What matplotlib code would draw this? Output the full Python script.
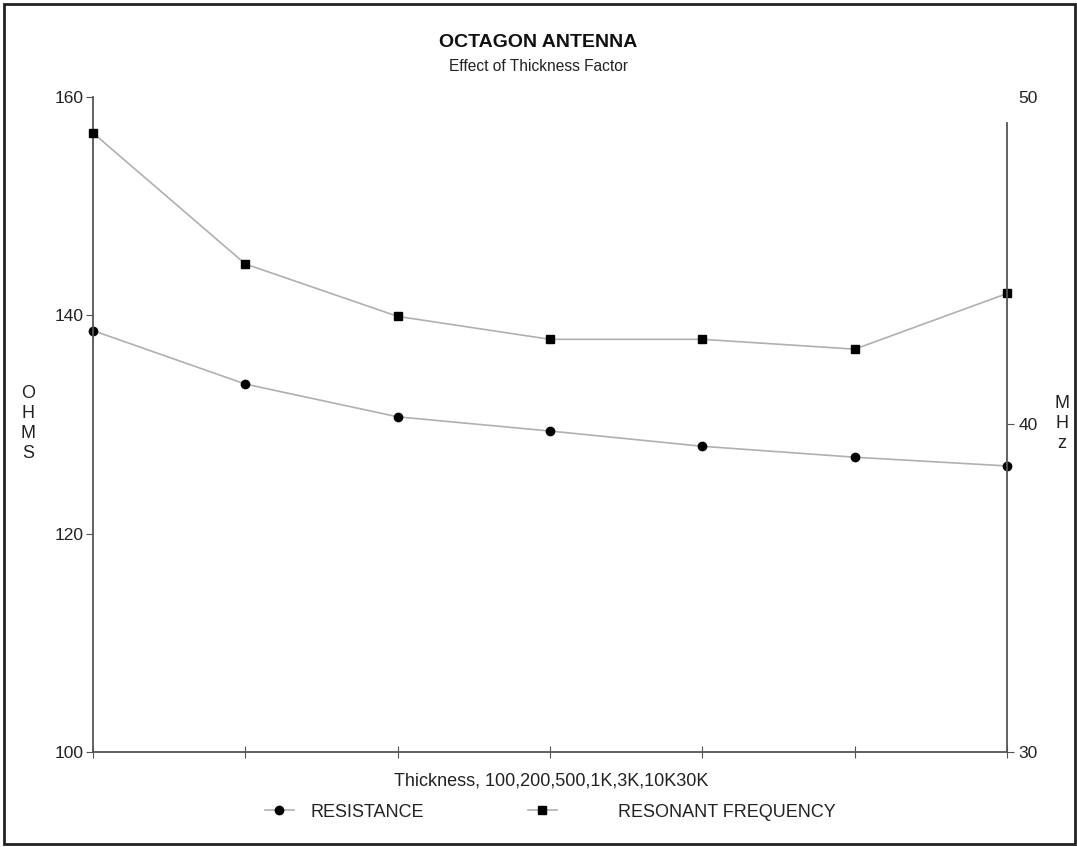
import matplotlib.pyplot as plt
from matplotlib.patches import Rectangle

plt.rcParams['font.family'] = ['Liberation Sans', 'DejaVu Sans']

# thickness factor steps (100, 200, 500, 1K, 3K, 10K, 30K)
thickness = [0, 1, 2, 3, 4, 5, 6]
resistance = [138.6, 133.7, 130.7, 129.4, 128.0, 127.0, 126.2]   # ohms
frequency = [48.9, 44.9, 43.3, 42.6, 42.6, 42.3, 44.0]           # MHz

line_col = '#b0b0b0'
axis_col = '#555555'
txt_col = '#222222'

fig = plt.figure(figsize=(10.77, 8.47), dpi=100)
ax = fig.add_axes([0.0864, 0.1122, 0.8487, 0.7733])
ax2 = ax.twinx()

l1, = ax.plot(thickness, resistance, color=line_col, lw=1.2, marker='o', ms=6,
              mfc='black', mec='black', clip_on=False, label='RESISTANCE')
l2, = ax2.plot(thickness, frequency, color=line_col, lw=1.2, marker='s', ms=5.5,
               mfc='black', mec='black', clip_on=False, label='RESONANT FREQUENCY')

ax.set_xlim(0, 6)
ax.set_ylim(100, 160)
ax2.set_ylim(30, 50)
ax.set_xticks(thickness)
ax.set_xticklabels([])
ax.set_yticks([100, 120, 140, 160])
ax2.set_yticks([30, 40, 50])

for a in (ax, ax2):
    for s in a.spines.values():
        s.set_color(axis_col)
        s.set_linewidth(1.3)
    a.spines['top'].set_visible(False)
ax.spines['right'].set_visible(False)
ax2.spines['left'].set_visible(False)
ax2.spines['bottom'].set_visible(False)
ax2.spines['right'].set_bounds(30, 49.2)

ax.tick_params(axis='x', direction='inout', length=8, color=axis_col)
ax.tick_params(axis='y', direction='out', length=5, color=axis_col,
               labelsize=12.5, pad=1.5, labelcolor=txt_col)
ax2.tick_params(axis='y', direction='out', length=5, color=axis_col,
                labelsize=12.5, pad=3, labelcolor=txt_col)
ax2.yaxis.get_major_ticks()[2].tick2line.set_visible(False)

fig.text(0.5, 0.950, 'OCTAGON ANTENNA', ha='center', va='center',
         fontsize=14, fontweight='bold', color='#111111')
fig.text(0.5, 0.922, 'Effect of Thickness Factor', ha='center', va='center',
         fontsize=11.2, color=txt_col)
fig.text(0.512, 0.078, 'Thickness, 100,200,500,1K,3K,10K30K', ha='center',
         va='center', fontsize=13, color=txt_col)

fig.text(0.026, 0.500, 'O\nH\nM\nS', ha='center', va='center', fontsize=13,
         linespacing=1.25, color=txt_col)
fig.text(0.986, 0.500, 'M\nH\nz', ha='center', va='center', fontsize=13,
         linespacing=1.25, color=txt_col)

fig.legend([l1], ['RESISTANCE'], loc='center left',
           bbox_to_anchor=(265 / 1077, 0.041), frameon=False, fontsize=13,
           handlelength=1.6, handletextpad=0.9, borderpad=0, borderaxespad=0,
           labelcolor=txt_col)
fig.legend([l2], ['RESONANT FREQUENCY'], loc='center left',
           bbox_to_anchor=(528 / 1077, 0.041), frameon=False, fontsize=13,
           handlelength=1.6, handletextpad=3.4, borderpad=0, borderaxespad=0,
           labelcolor=txt_col)

# outer frame
fig.patches.append(Rectangle((0.004, 0.003), 0.994, 0.992, transform=fig.transFigure,
                             fill=False, ec='#222222', lw=2))

fig.savefig('out.png', dpi=100)
